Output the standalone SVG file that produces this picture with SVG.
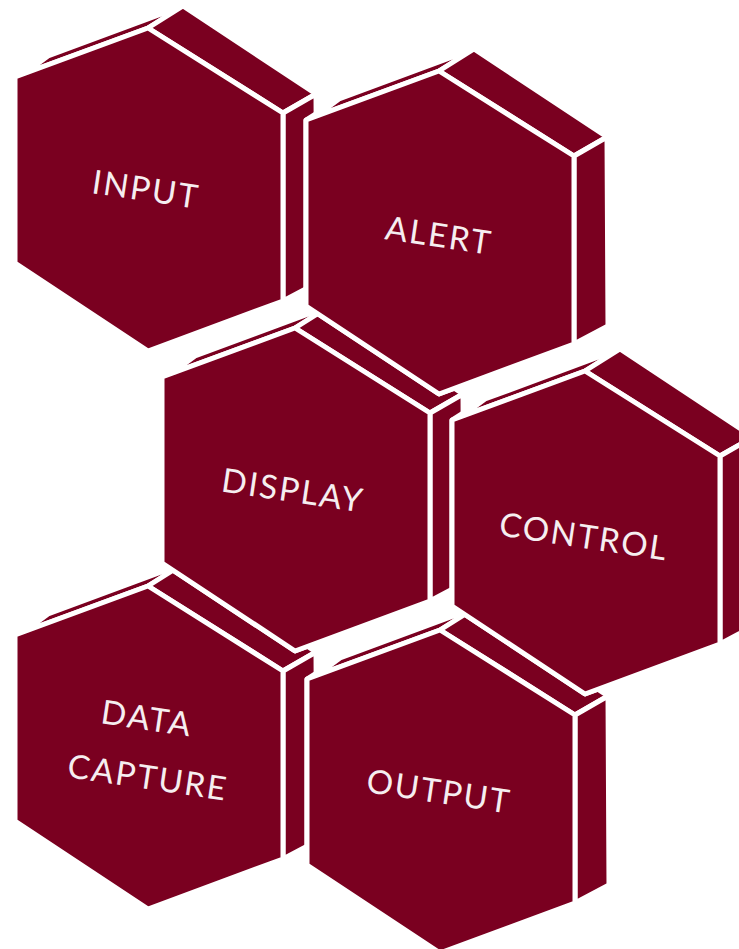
<svg xmlns="http://www.w3.org/2000/svg" xmlns:xlink="http://www.w3.org/1999/xlink" width="739" height="949" viewBox="0 0 739 949">
  <style>
    .halo { fill: #ffffff; stroke: #ffffff; stroke-width: 5; stroke-linejoin: round; }
    .face { fill: #7a0020; stroke: #ffffff; stroke-width: 5; stroke-linejoin: round; }
    .label { font-family: Lato, "Open Sans", sans-serif; font-size: 33px; fill: #f6eef0; text-anchor: middle; letter-spacing: 2px; }
  </style>
  <defs>
    <!-- hexagonal prism, centred on the front face -->
    <g id="prism">
      <polygon class="halo" points="-133,-113 -100,-134 35,-184 168,-96 169,93 135,111 0,161 -133,73"/>
      <!-- thin top-left side -->
      <polygon class="face" points="-124,-116.3 -100,-134 35,-184 0,-162"/>
      <!-- top-right side -->
      <polygon class="face" points="0,-162 35,-184 168,-96 135,-77"/>
      <!-- right side -->
      <polygon class="face" points="135,-77 168,-96 169,93 135,111"/>
      <!-- front face -->
      <polygon class="face" points="0,-162 135,-77 135,111 0,161 -133,73 -133,-113"/>
    </g>
  </defs>

  <g id="data-capture" transform="translate(148,748)">
    <use xlink:href="#prism"/>
    <text class="label" transform="translate(-1,-30) rotate(8.5)" y="12">DATA</text>
    <text class="label" transform="translate(0,29) rotate(8.5)" y="12">CAPTURE</text>
  </g>

  <g id="display" transform="translate(295,490)">
    <use xlink:href="#prism"/>
    <text class="label" transform="translate(-2,0) rotate(8.5)" y="12">DISPLAY</text>
  </g>

  <g id="input" transform="translate(148,190)">
    <use xlink:href="#prism"/>
    <text class="label" transform="translate(-2,-1) rotate(8.5)" y="12">INPUT</text>
  </g>

  <g id="alert" transform="translate(439,233)">
    <use xlink:href="#prism"/>
    <text class="label" transform="translate(0,2) rotate(8.5)" y="12">ALERT</text>
  </g>

  <g id="output" transform="translate(440,792)">
    <use xlink:href="#prism"/>
    <text class="label" transform="translate(-1,-1) rotate(8.5)" y="12">OUTPUT</text>
  </g>

  <g id="control" transform="translate(585,533)">
    <use xlink:href="#prism"/>
    <text class="label" transform="translate(-1,3) rotate(8.5)" y="12">CONTROL</text>
  </g>

  <g id="connectors"/>
</svg>
